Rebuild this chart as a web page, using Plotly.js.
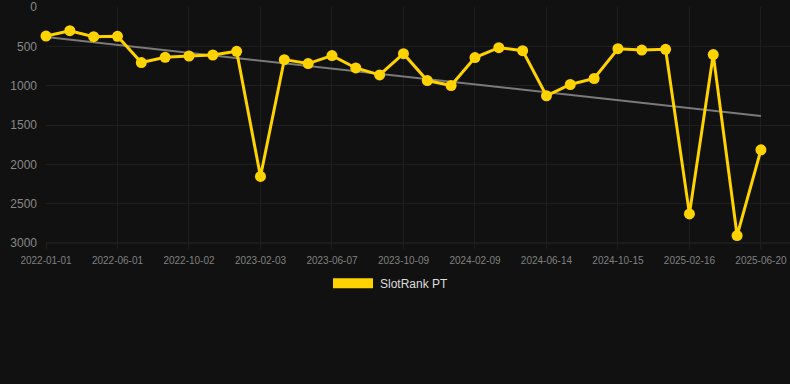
<!DOCTYPE html>
<html>
<head>
<meta charset="utf-8">
<script src="https://cdn.plot.ly/plotly-3.0.1.min.js"></script>
<style>html,body{margin:0;padding:0;background:#111111;}#chart{width:790px;height:384px;}</style>
</head>
<body>
<div id="chart"></div>
<script>
// Category labels (dates), one per data point
const dates = [
  "2022-01-01","2022-02-20","2022-04-12","2022-06-01","2022-07-12","2022-08-22",
  "2022-10-02","2022-11-12","2022-12-23","2023-02-03","2023-03-16","2023-04-26",
  "2023-06-07","2023-07-18","2023-08-28","2023-10-09","2023-11-19","2023-12-30",
  "2024-02-09","2024-03-21","2024-05-02","2024-06-14","2024-07-25","2024-09-04",
  "2024-10-15","2024-11-25","2025-01-05","2025-02-16","2025-03-29","2025-05-09",
  "2025-06-20"
];
// SlotRank PT values (rank, lower is better; axis reversed)
const rankPT = [
  370, 301, 377, 373, 706, 639, 623, 610, 563, 2154, 669, 719, 618, 775, 863, 593,
  935, 998, 643, 517, 555, 1129, 985, 909, 530, 547, 538, 2630, 605, 2905, 1816
];
// Trend line values at first and last category
const trendDates = ["2022-01-01", "2025-06-20"];
const trendValues = [382, 1386];
// Tick labels shown on the x axis
const tickLabels = [
  "2022-01-01","2022-06-01","2022-10-02","2023-02-03","2023-06-07","2023-10-09",
  "2024-02-09","2024-06-14","2024-10-15","2025-02-16","2025-06-20"
];
const yTicks = [0, 500, 1000, 1500, 2000, 2500, 3000];
const seriesName = "SlotRank PT";

const gold = "#FFD300";
const traces = [
  {
    x: trendDates, y: trendValues, type: "scatter", mode: "lines",
    line: {color: "#7a7a7a", width: 2}, hoverinfo: "skip", showlegend: false
  },
  {
    x: dates, y: rankPT, type: "scatter", mode: "lines+markers", name: seriesName,
    line: {color: gold, width: 3},
    marker: {color: gold, size: 11},
    showlegend: false, cliponaxis: false
  }
];

const L = 46, R = 790, T = 6.5, B = 243.5;
const px = v => (v - L) / (R - L);
const py = v => (B - v) / (B - T);

const layout = {
  width: 790, height: 384,
  paper_bgcolor: "#111111", plot_bgcolor: "#111111",
  margin: {l: L, r: 790 - R, t: T, b: 384 - B},
  font: {family: "Arial, 'Liberation Sans', sans-serif", color: "#888888"},
  xaxis: {
    type: "category", categoryorder: "array", categoryarray: dates,
    range: [0, 31.22],
    tickmode: "array", tickvals: tickLabels, ticktext: tickLabels,
    tickfont: {size: 10, color: "#808080"},
    showgrid: true, gridcolor: "#1e1e1e", gridwidth: 1,
    ticks: "outside", ticklen: 5, tickcolor: "#1e1e1e",
    ticklabelstandoff: 3,
    zeroline: false, showline: false, tickangle: 0
  },
  yaxis: {
    range: [3000, 0], tickmode: "array", tickvals: yTicks,
    tickfont: {size: 12, color: "#888888"},
    showgrid: true, gridcolor: "#1e1e1e", gridwidth: 1,
    zeroline: false, showline: false, ticks: "", ticklabelstandoff: 8
  },
  showlegend: false,
  shapes: [
    {type: "line", xref: "paper", yref: "paper", x0: 0, x1: 1, y0: 0, y1: 0,
     line: {color: "#262626", width: 1}, layer: "below"},
    {type: "rect", xref: "paper", yref: "paper",
     x0: px(333), x1: px(373), y0: py(289), y1: py(279),
     fillcolor: gold, line: {width: 0}}
  ],
  annotations: [
    {xref: "paper", yref: "paper", x: px(378), y: py(284.5),
     xanchor: "left", yanchor: "middle", showarrow: false,
     text: seriesName, font: {size: 12, color: "#dddddd"}}
  ]
};

Plotly.newPlot("chart", traces, layout, {displayModeBar: false, staticPlot: true});
</script>
</body>
</html>
